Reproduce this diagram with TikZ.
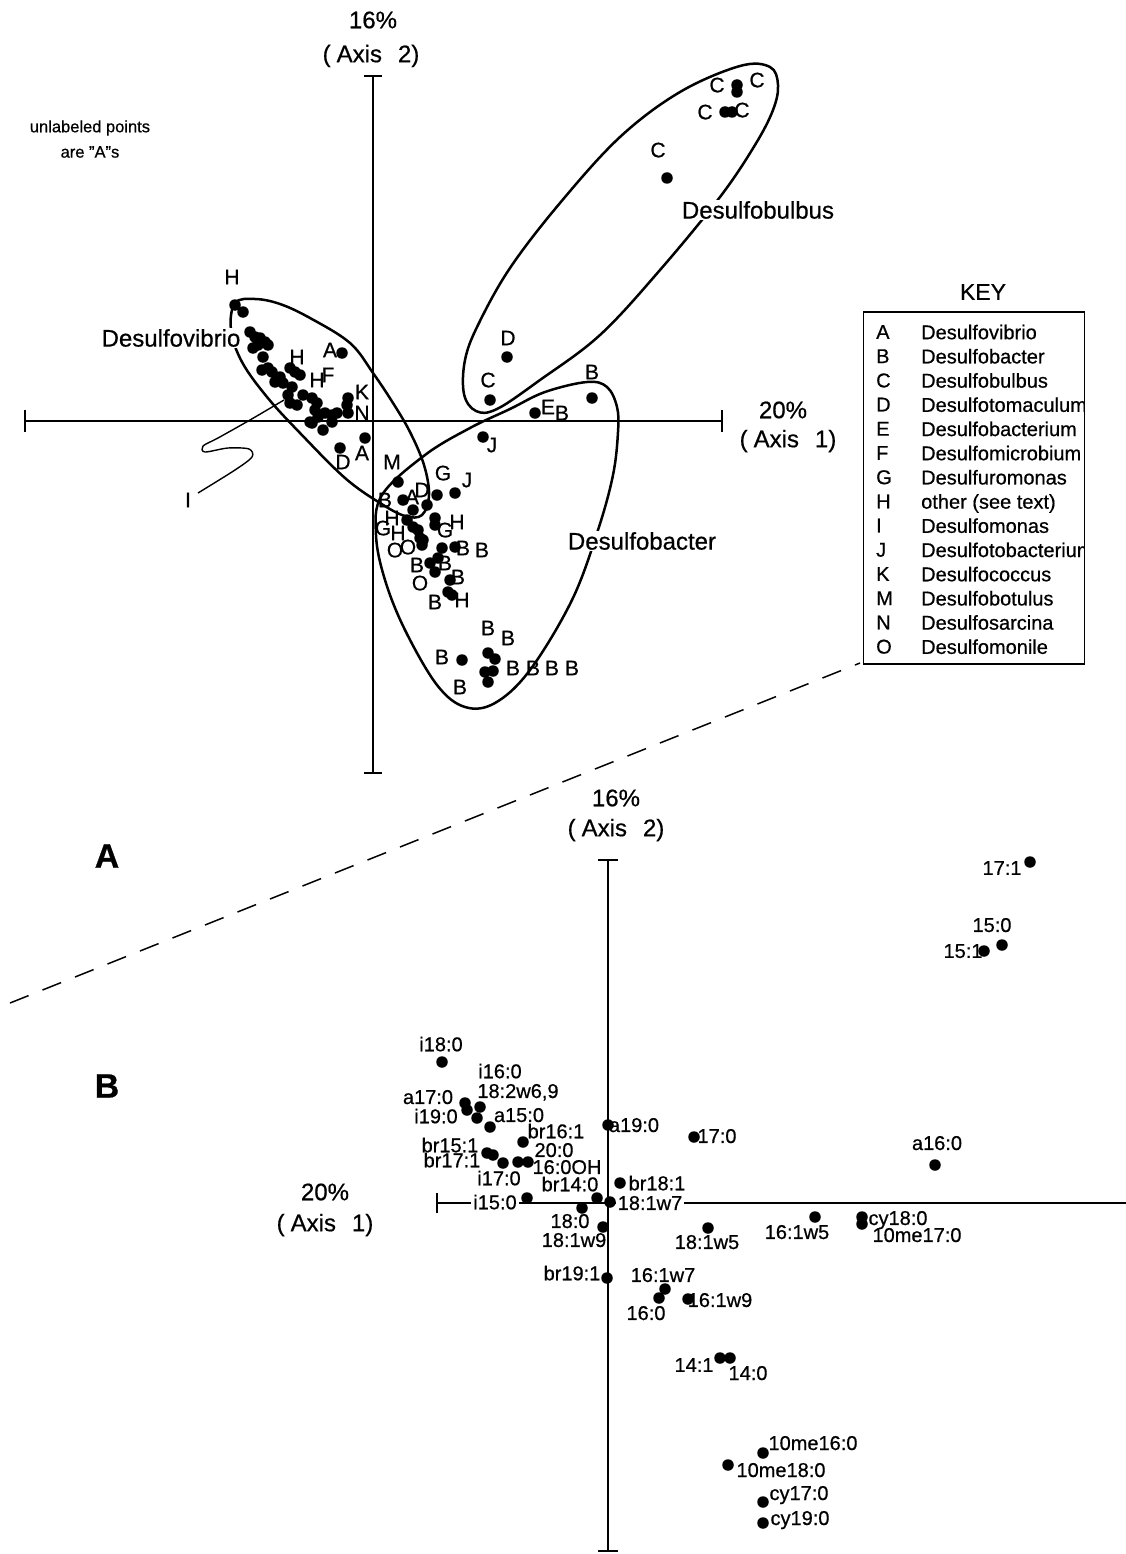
\documentclass[tikz,border=0pt]{standalone}
\usepackage{fontspec}
\setmainfont{Liberation Sans}[FakeBold=0.6]
\newcommand{\axlab}[1]{(\hspace{6pt}Axis\hspace{16pt}#1)}
\begin{document}
\begin{tikzpicture}[x=1pt,y=-1pt,
  dot/.style={circle,fill=black,inner sep=0pt,minimum size=11.5pt},
  lab/.style={inner sep=0pt,text depth=0pt,font=\fontsize{21}{21}\selectfont},
  flab/.style={inner sep=0pt,text depth=0pt,font=\fontsize{20}{20}\selectfont},
  big/.style={inner sep=1pt,font=\fontsize{24}{24}\selectfont},
  axt/.style={inner sep=0pt,font=\fontsize{24}{24}\selectfont},
  keyt/.style={inner sep=0pt,text depth=0pt,anchor=west,font=\fontsize{20}{20}\selectfont},
  axis/.style={line width=2.6pt},
  encl/.style={line width=2.5pt},
  panel/.style={inner sep=0pt,font=\fontsize{34}{34}\selectfont\bfseries}]
\useasboundingbox (0,0) rectangle (1126,1554);

% ---------------- upper panel axes
\coordinate (v1t) at (373,76); \coordinate (v1b) at (373,773);
\coordinate (h1l) at (25,421); \coordinate (h1r) at (722,421);
\draw[axis] (v1t) -- (v1b);
\draw[axis] (h1l) -- (h1r);
\draw[axis] ([xshift=-9pt]v1t) -- ([xshift=9pt]v1t);
\draw[axis] ([xshift=-9pt]v1b) -- ([xshift=9pt]v1b);
\draw[axis] ([yshift=-11pt]h1l) -- ([yshift=11pt]h1l);
\draw[axis] ([yshift=-11pt]h1r) -- ([yshift=11pt]h1r);
\node[axt] (t16) at (373,20) {16\%};
\node[axt] (t2a) at (371,56) {\axlab{2}};
\node[axt] (t20) at (783,410) {20\%};
\node[axt] (t1a) at (788,441) {\axlab{1}};

\node[inner sep=0pt,font=\fontsize{16.5}{16.5}\selectfont] (unl) at (90,128) {unlabeled points};
\node[inner sep=0pt,font=\fontsize{16.5}{16.5}\selectfont] (unl2) at (90,152) {are "A"s};

% ---------------- enclosures
\draw[encl] plot[smooth cycle,tension=0.6] coordinates {(740,66) (770,67) (778,85) (773,110) (755,145) (720,197) (660,270) (600,335) (540,380) (497,409) (476,411) (464,394) (465,360) (478,325) (510,268) (560,203) (620,137) (680,92)};
\draw[encl] plot[smooth cycle,tension=0.6] coordinates {(235,303) (255,299) (280,304) (310,318) (350,343) (373,373) (393,403) (410,432) (424,465) (429,495) (422,515) (405,516) (380,503) (345,478) (300,433) (267,397) (242,362) (231,330)};
\draw[encl] plot[smooth cycle,tension=0.6] coordinates {(545,392) (587,382) (607,387) (617,407) (618,432) (613,475) (598,530) (572,600) (530,670) (495,703) (465,707) (437,685) (405,630) (385,580) (376,535) (382,495) (425,455) (470,428) (510,409)};
\node[big,fill=white] (ldv) at (171,338) {Desulfovibrio};
\node[big,fill=white] (ldb) at (758,210) {Desulfobulbus};
\node[big,fill=white] (ldr) at (642,541) {Desulfobacter};

% ---------------- I marker
\node[lab] (lI) at (188,500) {I};
\coordinate (Iend) at (284,400);
\draw[line width=1.4pt] plot[smooth,tension=0.5] coordinates {(198,493) (235,470) (252,457) (249,449) (228,448) (205,452) (203,446) (218,438) (250,420) (284,400)};

% ---------------- upper dots
\foreach \x/\y [count=\i] in {737/85,737/92,725/112,732/112,667/178,507/357,490/400,535/413,592/398,483/437,
  235/305,243/312,
  250/332,255/337,260/338,265/342,268/345,253/348,258/345,263/357,
  262/370,268/368,272/372,280/377,290/368,295/372,300/375,275/382,283/383,292/387,288/395,290/403,297/405,303/395,
  312/398,317/403,315/410,318/417,310/422,312/423,325/413,332/415,337/413,332/422,323/430,348/398,347/405,348/413,
  342/353,365/438,340/448,
  398/482,455/493,437/495,403/500,413/510,427/505,407/520,413/527,418/530,420/538,423/540,422/545,435/518,435/525,
  442/548,455/547,430/563,438/558,435/572,450/580,448/592,452/595,
  462/660,488/653,495/659,485/672,493/671,488/682}
  \node[dot] (u\i) at (\x,\y) {};

% ---------------- upper labels
\foreach \x/\y/\t [count=\i] in {717/85/C,757/80/C,705/112/C,742/110/C,658/150/C,
  508/338/D,488/380/C,548/407/E,562/413/B,592/372/B,492/445/J,
  232/277/H,297/357/H,317/380/H,328/375/F,330/350/A,362/392/K,362/413/N,343/462/D,362/453/A,
  392/462/M,443/473/G,467/480/J,422/490/D,412/497/A,385/500/B,392/518/H,383/528/G,398/533/H,445/530/G,457/522/H,
  395/550/O,408/547/O,463/548/B,482/550/B,417/565/B,445/563/B,420/583/O,458/577/B,435/602/B,462/600/H,
  488/628/B,508/638/B,442/657/B,513/668/B,533/668/B,552/668/B,572/668/B,460/687/B}
  \node[lab] (ul\i) at (\x,\y) {\t};

% ---------------- key
\node[inner sep=0pt,font=\fontsize{23}{23}\selectfont] (keyt) at (983,292) {KEY};
\begin{scope}
\clip (864,312) rectangle (1084,664);
\foreach \l/\n [count=\i] in {A/Desulfovibrio,B/Desulfobacter,C/Desulfobulbus,D/Desulfotomaculum,E/Desulfobacterium,F/Desulfomicrobium,G/Desulfuromonas,H/other (see text),I/Desulfomonas,J/Desulfotobacterium,K/Desulfococcus,M/Desulfobotulus,N/Desulfosarcina,O/Desulfomonile}
{
  \node[keyt] (kl\i) at (876,{332+24.2*(\i-1)}) {\l};
  \node[keyt] (kn\i) at (921,{332+24.2*(\i-1)}) {\n};
}
\end{scope}
\node[draw,line width=1.8pt,minimum width=221pt,minimum height=352pt,inner sep=0pt] (keybox) at (974,488) {};

% ---------------- divider and panel letters
\coordinate (dA) at (10,1003); \coordinate (dB) at (860,663);
\draw[line width=1.5pt,dash pattern=on 20pt off 15pt] (dA) -- (dB);
\node[panel] (pA) at (107,856) {A};
\node[panel] (pB) at (107,1086) {B};

% ---------------- lower panel axes
\coordinate (v2t) at (608,860); \coordinate (v2b) at (608,1551);
\coordinate (h2l) at (437,1203); \coordinate (h2r) at (1126,1203);
\draw[axis] (v2t) -- (v2b);
\draw[axis] (h2l) -- (h2r);
\draw[axis] ([xshift=-10pt]v2t) -- ([xshift=10pt]v2t);
\draw[axis] ([xshift=-10pt]v2b) -- ([xshift=10pt]v2b);
\draw[axis] ([yshift=-10pt]h2l) -- ([yshift=10pt]h2l);
\node[axt] (b16) at (616,798) {16\%};
\node[axt] (b2a) at (616,830) {\axlab{2}};
\node[axt] (b20) at (325,1192) {20\%};
\node[axt] (b1a) at (325,1225) {\axlab{1}};

% ---------------- lower labels and dots
\foreach \dx/\dy/\lx/\ly/\t [count=\i] in {1030/862/1002/868/17:1, 1002/945/992/925/15:0, 984/951/963/951/15:1,
  442/1062/441/1044/i18:0, 465/1103/428/1097/a17:0, 480/1107/500/1071/i16:0, 467/1110/436/1116/i19:0,
  477/1118/518/1091/{18:2w6,9}, 490/1127/519/1115/a15:0, 523/1142/556/1131/br16:1, 487/1153/450/1145/br15:1,
  493/1155/452/1160/br17:1, 503/1163/499/1178/i17:0, 518/1162/554/1150/20:0, 528/1162/567/1167/16:0OH,
  597/1198/570/1184/br14:0, 620/1183/657/1183/br18:1, 608/1125/634/1125/a19:0,
  582/1208/570/1221/18:0, 603/1227/574/1240/18:1w9, 607/1278/572/1273/br19:1, 708/1228/707/1242/18:1w5,
  665/1289/663/1275/16:1w7, 659/1298/646/1313/16:0, 688/1299/720/1300/16:1w9, 694/1137/717/1136/17:0,
  815/1217/797/1232/16:1w5, 862/1217/898/1218/cy18:0, 862/1224/917/1235/10me17:0, 935/1165/937/1143/a16:0,
  720/1358/694/1365/14:1, 730/1358/748/1373/14:0, 763/1453/813/1443/10me16:0, 728/1465/781/1470/10me18:0,
  763/1502/799/1493/cy17:0, 763/1523/800/1518/cy19:0}
{
  \node[flab] (fl\i) at (\lx,\ly) {\t};
  \node[dot] (fd\i) at (\dx,\dy) {};
}
\node[flab,fill=white,inner xsep=2pt,inner ysep=1pt] (fi15) at (495,1202) {i15:0};
\node[flab,fill=white,inner xsep=2pt,inner ysep=1pt] (f187) at (650,1203) {18:1w7};
\node[dot] (fdi15) at (527,1198) {};
\node[dot] (fd187) at (610,1202) {};
\end{tikzpicture}
\end{document}
